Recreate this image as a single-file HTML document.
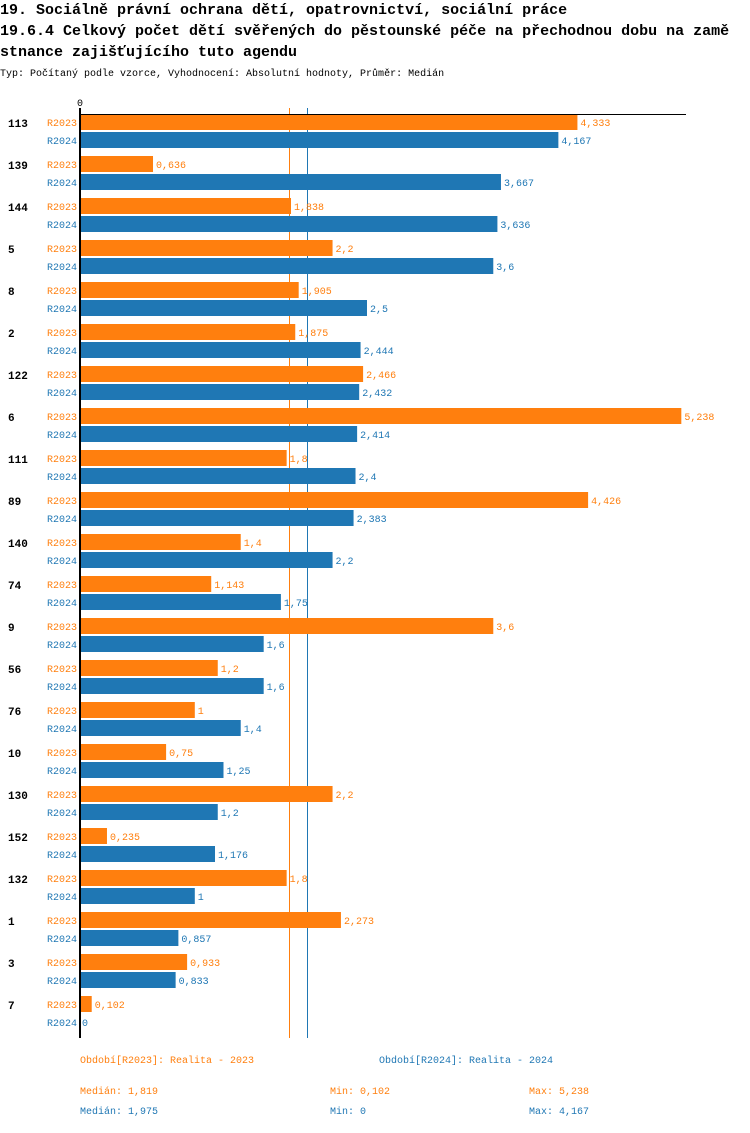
<!DOCTYPE html>
<html><head><meta charset="utf-8"><style>
body{margin:0;background:#fff;width:750px;height:1128px;overflow:hidden}
svg{font-family:"Liberation Mono",monospace}
</style></head><body>
<svg id="c" width="750" height="1128">
<text x="0" y="14" font-size="15" font-weight="bold" fill="#000">19. Sociálně právní ochrana dětí, opatrovnictví, sociální práce</text>
<text x="0" y="35" font-size="15" font-weight="bold" fill="#000">19.6.4 Celkový počet dětí svěřených do pěstounské péče na přechodnou dobu na zamě</text>
<text x="0" y="56" font-size="15" font-weight="bold" fill="#000">stnance zajišťujícího tuto agendu</text>
<text x="0" y="76" font-size="10" fill="#000">Typ: Počítaný podle vzorce, Vyhodnocení: Absolutní hodnoty, Průměr: Medián</text>
<g id="bars"></g>
<text x="80" y="1063" font-size="10" fill="#ff7f0e">Období[R2023]: Realita - 2023</text>
<text x="379" y="1063" font-size="10" fill="#1f77b4">Období[R2024]: Realita - 2024</text>
<text x="80" y="1094" font-size="10" fill="#ff7f0e">Medián: 1,819</text>
<text x="330" y="1094" font-size="10" fill="#ff7f0e">Min: 0,102</text>
<text x="529" y="1094" font-size="10" fill="#ff7f0e">Max: 5,238</text>
<text x="80" y="1114" font-size="10" fill="#1f77b4">Medián: 1,975</text>
<text x="330" y="1114" font-size="10" fill="#1f77b4">Min: 0</text>
<text x="529" y="1114" font-size="10" fill="#1f77b4">Max: 4,167</text>
</svg>
<script>
const categories=["113","139","144","5","8","2","122","6","111","89","140","74","9","56","76","10","130","152","132","1","3","7"];
const r2023=[4.333,0.636,1.838,2.2,1.905,1.875,2.466,5.238,1.8,4.426,1.4,1.143,3.6,1.2,1,0.75,2.2,0.235,1.8,2.273,0.933,0.102];
const r2024=[4.167,3.667,3.636,3.6,2.5,2.444,2.432,2.414,2.4,2.383,2.2,1.75,1.6,1.6,1.4,1.25,1.2,1.176,1,0.857,0.833,0];
const medians=[1.819,1.975];
const seriesNames=["R2023","R2024"];
const colors=["#ff7f0e","#1f77b4"];
const NS="http://www.w3.org/2000/svg";
const g=document.getElementById("bars");
const x0=80,k=114.8;
const xs=v=>x0+v*k;
const gy=i=>114+i*42;
function el(t,a){const e=document.createElementNS(NS,t);for(const n in a)e.setAttribute(n,a[n]);g.appendChild(e);return e;}
const fmt=v=>String(v).replace(".",",");
medians.forEach((m,s)=>{const lx=Math.round(xs(m))+0.5;const ln=el("line",{x1:lx,x2:lx,y1:108,y2:1038,stroke:colors[s],"stroke-width":1});
  
  });
const z=el("text",{x:77,y:106,"font-size":10,fill:"#000"});z.textContent="0";


categories.forEach((c,i)=>{
  const y=gy(i);
  const t=el("text",{x:8,y:y+13,"font-size":11,"font-weight":"bold",fill:"#000"});t.textContent=c;
  
  
  [r2023,r2024].forEach((arr,s)=>{
    const by=y+s*18,v=arr[i];
    const l=el("text",{x:77,y:by+12,"font-size":10,fill:colors[s],"text-anchor":"end"});l.textContent=seriesNames[s];
    
    
    if(v>0){const r=el("rect",{x:x0,y:by,width:xs(v)-x0,height:16,fill:colors[s]});
      
      }
    const vt=el("text",{x:xs(v)+(v>0?3:2),y:by+12,"font-size":10,fill:colors[s]});vt.textContent=fmt(v);
    
    
  });
});
const yAxisLine=el("line",{x1:80,x2:80,y1:108,y2:1038,stroke:"#000","stroke-width":2});


const xAxisLine=el("line",{x1:80,x2:686,y1:114.5,y2:114.5,stroke:"#000","stroke-width":1});


</script>
</body></html>
